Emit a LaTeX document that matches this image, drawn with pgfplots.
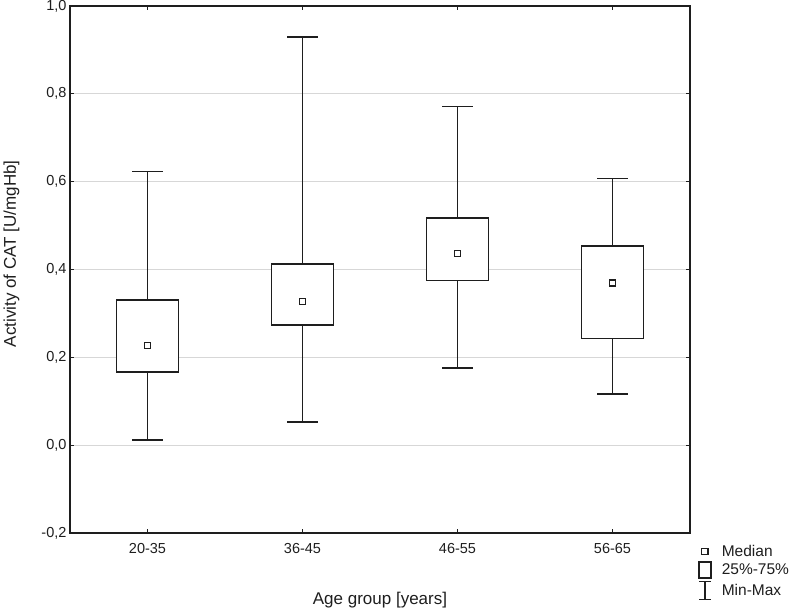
\documentclass[border=0pt]{standalone}
\usepackage{fontspec}
\setmainfont{Liberation Sans}
\usepackage{pgfplots}
\pgfplotsset{compat=1.18}
\usepgfplotslibrary{statistics}
\definecolor{gridc}{RGB}{215,215,215}
\definecolor{ink}{RGB}{30,30,30}
\begin{document}
\begin{tikzpicture}
\begin{axis}[
  scale only axis,
  width=620pt, height=527pt,
  xmin=-0.5, xmax=3.5,
  ymin=-0.2, ymax=1.0,
  xtick={0,1,2,3},
  xticklabels={20-35,36-45,46-55,56-65},
  ytick={-0.2,0,0.2,0.4,0.6,0.8,1.0},
  tick pos=both, tick align=inside,
  major tick length=4pt,
  ymajorgrids,
  grid style={gridc, line width=1.2pt},
  axis line style={ink, line width=1.5pt},
  tick style={ink, line width=1.2pt},
  /pgf/number format/assume math mode=true,
  yticklabel style={/pgf/number format/.cd, fixed, fixed zerofill, precision=1, use comma},
  ticklabel style={font=\fontsize{14.5}{16}\selectfont, text=ink},
  xticklabel style={yshift=-7pt},
  xlabel={Age group [years]},
  ylabel={Activity of CAT [U/mgHb]},
  label style={font=\fontsize{17}{20}\selectfont, text=ink},
  xlabel style={yshift=-32pt},
  ylabel style={at={(axis description cs:-0.076,0.53)}, anchor=south},
  boxplot/draw direction=y,
  boxplot/box extend=0.4,
  boxplot/whisker extend=0.2,
  boxplot/draw/median/.code={},
  legend style={draw=none, fill=none, at={(rel axis cs:1,0)}, anchor=north west,
    xshift=8pt, yshift=-10pt, font=\fontsize{15.5}{19}\selectfont, inner sep=0pt,
    row sep=1.5pt,
    cells={anchor=west}, text=ink,
    /tikz/every odd column/.append style={column sep=8pt}},
  legend cell align=left,
]
\addlegendimage{legend image code/.code={\draw[ink,line width=1.4pt] (2.5pt,-3.2pt) rectangle (9pt,3.2pt);}}
\addlegendimage{legend image code/.code={\draw[ink,line width=1.6pt] (0pt,-8pt) rectangle (12pt,8pt);}}
\addlegendimage{legend image code/.code={\draw[ink,line width=1.6pt] (6pt,-9pt)--(6pt,9pt) (0pt,-9pt)--(12pt,-9pt) (0pt,9pt)--(12pt,9pt);}}
\legend{Median, 25\%-75\%, Min-Max}

\addplot[ink, line width=1.8pt, fill=white, forget plot,
  boxplot prepared={lower whisker=0.011, lower quartile=0.166, median=0.227,
    upper quartile=0.330, upper whisker=0.623, draw position=0}] coordinates {};
\addplot[ink, line width=1.8pt, fill=white, forget plot,
  boxplot prepared={lower whisker=0.052, lower quartile=0.274, median=0.327,
    upper quartile=0.412, upper whisker=0.930, draw position=1}] coordinates {};
\addplot[ink, line width=1.8pt, fill=white, forget plot,
  boxplot prepared={lower whisker=0.175, lower quartile=0.375, median=0.436,
    upper quartile=0.518, upper whisker=0.771, draw position=2}] coordinates {};
\addplot[ink, line width=1.8pt, fill=white, forget plot,
  boxplot prepared={lower whisker=0.116, lower quartile=0.243, median=0.369,
    upper quartile=0.453, upper whisker=0.607, draw position=3}] coordinates {};

\addplot[only marks, mark=square, mark size=3pt, ink, mark options={line width=1.4pt, fill=white}, forget plot]
  coordinates {(0,0.227) (1,0.327) (2,0.436) (3,0.369)};
\end{axis}
\pgfresetboundingbox
\path (current axis.south west) ++(-70pt,-77pt) rectangle ++(792pt,610pt);
\end{tikzpicture}
\end{document}
